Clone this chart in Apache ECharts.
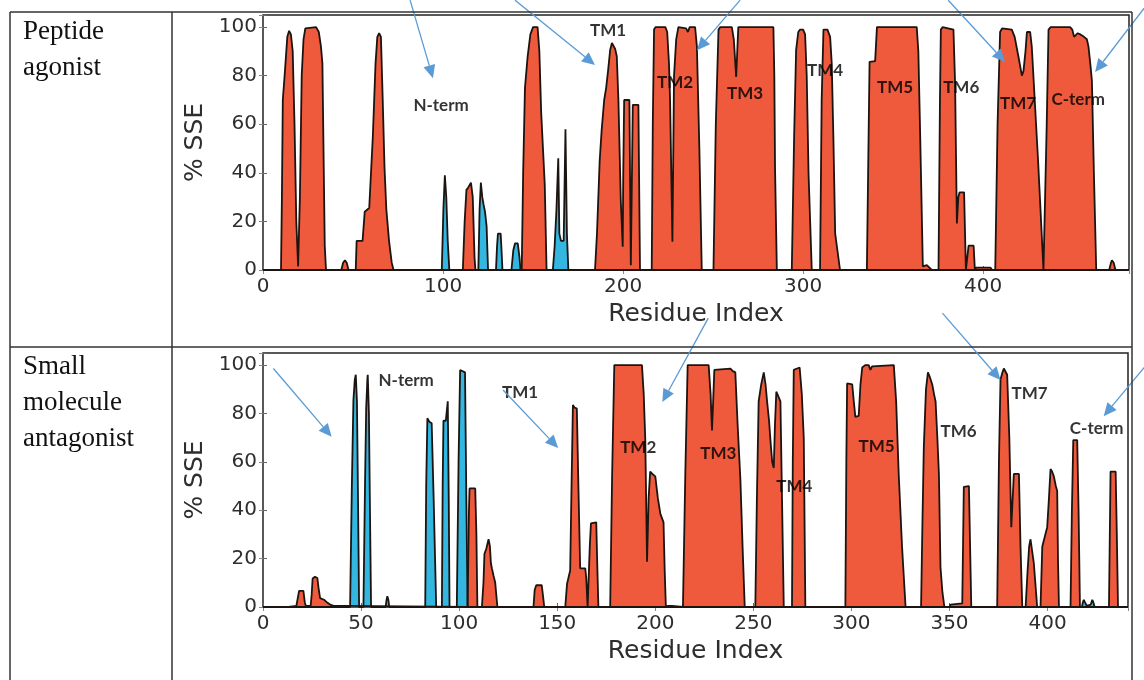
<!DOCTYPE html>
<html>
<head>
<meta charset="utf-8">
<script src="https://cdn.jsdelivr.net/npm/echarts@6/dist/echarts.min.js"></script>
<style>
html,body{margin:0;padding:0;background:#fff;}
#chart{width:1144px;height:680px;}
</style>
</head>
<body>
<div id="chart"></div>
<script>
// ---------- DATA ----------
const rowTitles = ['Peptide\nagonist', 'Small\nmolecule\nantagonist'];
const xTicksTop = [0, 100, 200, 300, 400];
const xTicksBottom = [0, 50, 100, 150, 200, 250, 300, 350, 400];
const yTicks = [0, 20, 40, 60, 80, 100];
const xMaxTop = 481;
const xMaxBottom = 441;
const yMax = 105;

// Peptide agonist: helix (% SSE) [residue, value]
const helixTop = [
[0,0],[10,0],[10.5,30],[11,70],[12,80],[13.5,96],[14.5,98.5],[15.5,97],[16.5,90],[17.5,60],[18.5,20],[19.5,1.5],[20,1.5],[20.5,30],[21.5,80],[22.5,95],[23.5,99.5],[24.5,100],[29.5,100],[31,98],[32.2,92],[33,85],[33.6,50],[34.3,10],[35,0],
[43.5,0],[44.5,3],[45.5,4],[46.5,3],[47.5,0],
[51.5,0],[52,12],[55.3,12],[56.5,24],[59,25.5],[61,55],[62.5,85],[63.5,96],[64.5,97.5],[65.5,96],[66.5,70],[67.5,42],[68.5,25],[70,12],[71.5,3],[72.5,0],
[111,0],[112,20],[113,33],[114,34],[115.5,36],[116.5,30],[117.5,5],[118,0],
[143.7,0],[144.5,40],[145.5,75],[147,88],[148.5,97],[150,100],[152.5,100],[153.5,90],[154.5,65],[155.5,50],[156.5,35],[157.5,0],
[184.4,0],[185.5,15],[187,45],[188.1,57.6],[189.5,70],[190.6,75],[191.8,83],[192.8,90.5],[193.8,93.5],[194.6,93.3],[195.6,91],[196.5,88],[197.4,70],[198.2,45],[198.7,29],[199.8,9.6],[200.1,40],[200.6,70],[203.5,70],[204.3,2],[204.8,2],[205.4,68],[208.5,68],[209.4,0],
[215.9,0],[216.5,60],[217.2,99],[218,100],[223.5,100],[224.5,98],[225.5,85],[226.1,70],[227.4,11.6],[228.3,80],[229.5,95],[230.7,100],[235,99.5],[236,98],[237,100],[240,100],[241,92],[242.4,49],[243.7,0],
[250.2,0],[251.5,60],[253,99],[254,100],[260.4,100],[261.5,95],[262.8,79.5],[264,100],[283.5,100],[284,80],[284.4,42],[285.4,0],
[293.7,0],[295,55],[296.1,90.5],[297.3,98],[298.3,99],[300,99],[301.1,97],[302,80],[303,40],[304.8,0],
[309.4,0],[310.3,70],[311.3,99],[313.5,99],[315,96],[315.9,85],[316.8,55],[317.8,15],[320.5,0],
[335.4,0],[336.9,85.7],[340,86],[341,100],[363.1,100],[364,90],[365,56],[366.5,1.5],[368.7,2],[371.5,0],
[375.2,0],[376,70],[376.5,99],[377.5,100],[383.5,99],[384.4,77],[385.4,19.2],[386.2,30],[386.9,32],[389.4,32],[390.4,0],[391.9,10],[394.7,10],[395.4,0],[396,1],[404,1],[405,0],
[406.7,0],[408,60],[409.4,98],[410.5,99.5],[415.9,99],[417.5,96],[419.6,87.8],[421.5,80],[422.4,82],[423.5,90],[424.3,98],[426.1,98],[427,92],[430.5,45],[433.5,0],
[434.4,0],[435.3,60],[436.3,99],[437.5,100],[448.3,100],[449.5,99],[450.5,96],[451.5,96],[452.5,97.5],[454,97],[456,96],[457.6,95],[458.5,92],[459.5,85],[460.4,78],[461.5,40],[462.8,0],
[470,0],[471,3],[471.5,4],[472.5,3],[473.5,0],[481,0]
];
// Peptide agonist: strand
const strandTop = [
[0,0],[99.3,0],[100.2,25],[101,39],[101.8,30],[102.6,12],[103.5,0],
[119.6,0],[120.3,25],[121,36],[121.8,30],[122.5,27],[123.3,24],[124.2,18],[125,0],
[129.4,0],[130,10],[130.5,15],[132,15],[132.5,8],[133,0],
[138,0],[139,8],[140,11],[141.5,11],[142.5,5],[143,0],
[161,0],[162,10],[163,25],[164,46],[164.6,15],[165.5,12],[167,12],[168,58],[168.8,15],[169.6,0],
[481,0]
];
// Small molecule antagonist: helix
const helixBottom = [
[0,0],[13,0],[13.5,0.5],[17,0.5],[17.8,1],[18.4,6.7],[19,7],[20.6,6.7],[21.3,2],[21.8,0.5],[24.3,0.5],[24.8,5],[25.3,11.8],[26.5,12.5],[27.7,12],[28.3,8],[29.1,3.7],[30,3.5],[31.1,3],[32.5,2],[34.2,1],[36,0.5],[41,0.5],[42,0],
[104.3,0],[105,40],[105.3,49],[108.2,49],[108.8,30],[109.3,0],
[111.6,0],[112.4,10],[112.9,22],[113.8,24],[115,28],[115.7,25],[116.2,18],[116.7,16],[117.5,13],[118.4,10],[119.5,0],
[137.9,0],[138.5,7],[139.3,9],[142.1,9],[142.7,5],[143.4,0],
[154.1,0],[155,9.5],[156,13],[156.6,15],[157.3,50],[158,83.5],[158.8,82.5],[160,82],[160.8,50],[161.7,16],[164.3,16],[164.8,12],[165.5,0],[166,0],[166.6,25],[167.2,34.6],[169.9,35],[170.5,15],[171,0],
[177,0],[178,55],[179.1,100],[193.2,100],[194.1,88],[194.9,69],[195.8,18.7],[196.6,45],[197.4,56],[198.5,55],[200,54],[201.3,45],[202.6,38.5],[204.2,35],[204.8,15],[205.4,0],[206.5,0.5],[207.5,1],[208.5,0.5],[209,0],
[214.1,0],[215.3,55],[216.5,100],[227.2,100],[228.2,88],[228.9,73],[229.5,85],[230.1,98],[238.3,98.5],[239.5,97.5],[240.8,97],[242,75],[243.4,52.5],[244.5,25],[245.6,0],
[251,0],[251.8,45],[252.7,85],[254,92],[255.3,97],[256.2,92],[257,85],[258,77],[258.7,69],[259.6,60],[260.4,57.5],[261,75],[261.7,89],[262.8,87],[263.8,85],[264.6,45],[265.5,0],
[269.7,0],[270.1,60],[270.6,98],[272,98.5],[273.6,99],[274.7,88],[275.7,70],[276.1,35],[276.5,0],
[296.9,0],[297.4,60],[297.8,92.4],[300.4,92],[301.2,85],[302,78.6],[303.7,79],[304.6,92],[305.5,99],[307,100],[308.8,100],[309.7,98],[310.5,99.5],[311.4,100],[321.6,100],[322.8,85],[324.1,55],[325.8,25],[327.6,0],
[335.5,0],[336.2,35],[336.9,66],[338,90],[339,97],[340,95],[341.2,92],[342.1,88],[342.9,85],[343.8,70],[344.6,55],[345.4,16.5],[346.4,6],[347.4,0],
[350,0],[350.5,1],[356.5,1.5],[357.3,49.7],[359.9,50],[360.5,25],[361.1,0],
[374.3,0],[375.2,60],[376,94],[377,97],[377.7,98.6],[378.5,98],[379.4,96],[380.5,70],[381.5,33],[382.8,55],[385.4,55],[386.2,25],[387.1,0],
[388.8,0],[389.8,15],[390.6,25],[391.3,28],[392,27.5],[393,18],[394.7,0],
[396.4,0],[397.3,25],[399.8,33],[400.7,45],[401.5,57],[402.3,56],[403.2,54],[404.2,50],[404.9,48],[405.3,20],[405.8,0],
[411.7,0],[412.4,40],[413.1,69],[415.1,69],[415.8,40],[416.5,0],
[431.3,0],[432.1,56],[434.7,56],[435.3,30],[435.9,0],
[441,0]
];
// Small molecule antagonist: strand
const strandBottom = [
[0,0],[44.4,0],[45.3,50],[46.1,85.5],[46.8,94],[47.3,96],[47.9,85],[48.5,40],[49,0],
[51.2,0],[52,50],[52.6,82],[53.2,94],[53.4,96],[54,80],[54.6,35],[55.1,0],
[62.5,0],[63,3],[63.4,4.5],[63.9,3],[64.4,0],
[82.7,0],[83.2,50],[83.8,78],[84.8,76.6],[86,76],[87,45],[88.3,0],
[91.2,0],[91.6,50],[92,77],[93.2,77],[94.2,85],[94.7,45],[95.1,0],
[98.8,0],[99.7,60],[100.5,98],[103,97],[103.6,50],[104.3,0],
[417.5,0],[418,2],[418.5,3],[419,2],[420,0.5],[422,1],[422.8,3],[423.3,2],[424,0],
[441,0]
];

// Region annotations [residue, %SSE, text]
const labelsTop = [
[98.9,67.9,'N-term'],[191.7,98.8,'TM1'],[228.9,77.4,'TM2'],[267.8,72.8,'TM3'],[312.2,82.3,'TM4'],
[351.1,75.3,'TM5'],[387.8,75.3,'TM6'],[419.4,68.7,'TM7'],[452.8,70,'C-term']
];
const labelsBottom = [
[73,93.8,'N-term'],[131.1,88.8,'TM1'],[191.3,66.1,'TM2'],[232.1,63.6,'TM3'],[270.9,49.6,'TM4'],
[312.8,66.5,'TM5'],[354.6,72.7,'TM6'],[390.8,88.4,'TM7'],[425,73.6,'C-term']
];
// Arrows [fromX, fromY, toX, toY] in data units
const arrowsTop = [
[81.7,111.1,94.4,79],[140,111.1,184.4,84.4],[265,111.1,241.1,90.5],[380.6,111.1,412.2,85.6],[489.4,107.8,462.2,81.5]
];
const arrowsBottom = [
[5.3,98.6,35,70.4],[122.4,89.7,150.5,65.7],[227,119.4,203.6,84.7],[346.4,121.5,376,93.8],[449.5,99.2,428.6,78.9]
];

// ---------- STYLE ----------
const HELIX = '#f05a3c';
const STRAND = '#33b6e0';
const EDGE = '#1c1410';
const ARROW = '#5b9bd5';
const TXT = '#2e2e2e';
const tickFont = 'DejaVu Sans';

const chart = echarts.init(document.getElementById('chart'), null, {renderer:'canvas'});

function xAxes(grid, max, ticks, interval) {
  return [
    {gridIndex:grid, type:'value', min:0, max:max, interval:interval, position:'bottom',
     axisLine:{show:false}, splitLine:{show:false},
     axisTick:{show:true, inside:true, length:4, lineStyle:{color:'#666', width:1}},
     axisLabel:{color:TXT, fontSize:20, fontFamily:tickFont, margin:7,
       formatter: v => ticks.indexOf(v) >= 0 ? String(v) : ''},
     name:'Residue Index', nameLocation:'middle', nameGap:32,
     nameTextStyle:{color:TXT, fontSize:25, fontFamily:tickFont}},
    {gridIndex:grid, type:'value', min:0, max:max, interval:interval, position:'top',
     axisLine:{show:false}, splitLine:{show:false}, axisLabel:{show:false},
     axisTick:{show:true, inside:true, length:4, lineStyle:{color:'#888', width:1}}}
  ];
}
function yAxes(grid) {
  return [
    {gridIndex:grid, type:'value', min:0, max:yMax, interval:20, position:'left',
     axisLine:{show:false}, splitLine:{show:false},
     axisTick:{show:true, inside:true, length:4, lineStyle:{color:'#666', width:1}},
     axisLabel:{color:TXT, fontSize:20, fontFamily:tickFont, margin:6,
       formatter: v => yTicks.indexOf(v) >= 0 ? String(v) : ''},
     name:'% SSE', nameLocation:'middle', nameGap:50, nameRotate:90,
     nameTextStyle:{color:TXT, fontSize:25, fontFamily:tickFont}},
    {gridIndex:grid, type:'value', min:0, max:yMax, interval:20, position:'right',
     axisLine:{show:false}, splitLine:{show:false}, axisLabel:{show:false},
     axisTick:{show:true, inside:true, length:4, lineStyle:{color:'#888', width:1}}}
  ];
}
function area(data, color, xi, yi) {
  return {type:'line', data:data, xAxisIndex:xi, yAxisIndex:yi, showSymbol:false, symbol:'none',
    smooth:false, lineStyle:{color:EDGE, width:1.8}, areaStyle:{color:color, opacity:1},
    silent:true, z:2};
}
function labelSeries(labels, xi, yi) {
  return {type:'scatter', xAxisIndex:xi, yAxisIndex:yi, clip:false, silent:true, z:5,
    symbol:'circle', symbolSize:1, itemStyle:{color:'rgba(0,0,0,0)'},
    data: labels.map(l => ({value:[l[0], l[1]], name:l[2]})),
    label:{show:true, position:'inside', formatter:'{b}', color:'#000', fontSize:17,
      fontWeight:'bold', fontFamily:'Lato'}
  };
}

const gridTop = {left:263, top:15, width:866, height:255, show:true, borderColor:'#222', borderWidth:1.5,
  backgroundColor:'#fff', containLabel:false, outerBoundsMode:'none'};
const gridBottom = {left:263, top:353, width:865, height:254, show:true, borderColor:'#222', borderWidth:1.5,
  backgroundColor:'#fff', containLabel:false, outerBoundsMode:'none'};

const tableLine = {stroke:'#333', lineWidth:1.5};
const option = {
  animation:false,
  backgroundColor:'#fff',
  grid:[gridTop, gridBottom],
  xAxis:[...xAxes(0, xMaxTop, xTicksTop, 100), ...xAxes(1, xMaxBottom, xTicksBottom, 50)],
  yAxis:[...yAxes(0), ...yAxes(1)],
  series:[
    area(helixTop, HELIX, 0, 0),
    area(strandTop, STRAND, 0, 0),
    labelSeries(labelsTop, 0, 0),
    area(helixBottom, HELIX, 2, 2),
    area(strandBottom, STRAND, 2, 2),
    labelSeries(labelsBottom, 2, 2)
  ]
};
chart.setOption(option);

// arrows: positions come from data coordinates through the chart's own axes
function arrowGraphics(arrows, xi, yi) {
  const out = [];
  arrows.forEach(a => {
    const p0 = chart.convertToPixel({xAxisIndex:xi, yAxisIndex:yi}, [a[0], a[1]]);
    const p1 = chart.convertToPixel({xAxisIndex:xi, yAxisIndex:yi}, [a[2], a[3]]);
    const dx = p1[0] - p0[0], dy = p1[1] - p0[1];
    const len = Math.sqrt(dx*dx + dy*dy);
    const ux = dx/len, uy = dy/len;
    const headL = 13, headW = 6;
    const bx = p1[0] - ux*headL, by = p1[1] - uy*headL;
    out.push({type:'line', z:50, silent:true, shape:{x1:p0[0], y1:p0[1], x2:bx, y2:by},
      style:{stroke:ARROW, lineWidth:1.3}});
    out.push({type:'polygon', z:50, silent:true,
      shape:{points:[[p1[0], p1[1]], [bx - uy*headW, by + ux*headW], [bx + uy*headW, by - ux*headW]]},
      style:{fill:ARROW}});
  });
  return out;
}

chart.setOption({
  graphic:[
    {type:'line', z:100, shape:{x1:10, y1:12, x2:1132, y2:12}, style:tableLine},
    {type:'line', z:100, shape:{x1:10, y1:347, x2:1132, y2:347}, style:tableLine},
    {type:'line', z:100, shape:{x1:10, y1:12, x2:10, y2:680}, style:tableLine},
    {type:'line', z:100, shape:{x1:172, y1:12, x2:172, y2:680}, style:tableLine},
    {type:'line', z:100, shape:{x1:1132, y1:12, x2:1132, y2:680}, style:tableLine},
    {type:'text', z:100, x:23, y:14, style:{text:rowTitles[0], fontSize:27, fontFamily:'Liberation Serif',
      fill:'#111', lineHeight:36, verticalAlign:'top'}},
    {type:'text', z:100, x:23, y:349, style:{text:rowTitles[1], fontSize:27, fontFamily:'Liberation Serif',
      fill:'#111', lineHeight:36, verticalAlign:'top'}},
    ...arrowGraphics(arrowsTop, 0, 0),
    ...arrowGraphics(arrowsBottom, 2, 2)
  ]
});
</script>
</body>
</html>
